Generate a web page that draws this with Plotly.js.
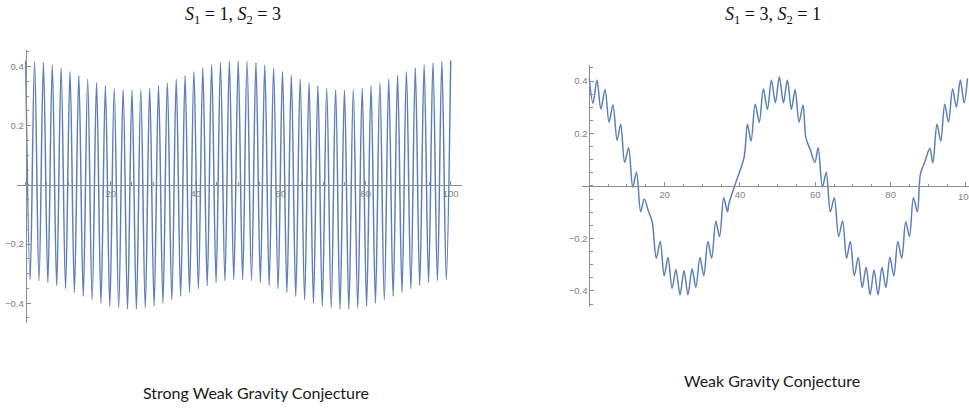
<!DOCTYPE html>
<html>
<head>
<meta charset="utf-8">
<script src="https://cdn.plot.ly/plotly-3.0.1.min.js"></script>
<style>html,body{margin:0;padding:0;background:#fff;}#chart{width:969px;height:408px;}</style>
</head>
<body>
<div id="chart"></div>
<script>
// Left panel: S1 = 1, S2 = 3 (extrema)
const leftX = [0, 1.04, 2.08, 3.13, 4.17, 5.21, 6.25, 7.29, 8.33, 9.38, 10.42, 11.46, 12.5, 13.54, 14.58, 15.63, 16.67, 17.71, 18.75, 19.79, 20.83, 21.88, 22.92, 23.96, 25, 26.04, 27.08, 28.13, 29.17, 30.21, 31.25, 32.29, 33.33, 34.38, 35.42, 36.46, 37.5, 38.54, 39.58, 40.63, 41.67, 42.71, 43.75, 44.79, 45.83, 46.88, 47.92, 48.96, 50, 51.04, 52.08, 53.13, 54.17, 55.21, 56.25, 57.29, 58.33, 59.38, 60.42, 61.46, 62.5, 63.54, 64.58, 65.63, 66.67, 67.71, 68.75, 69.79, 70.83, 71.88, 72.92, 73.96, 75, 76.04, 77.08, 78.13, 79.17, 80.21, 81.25, 82.29, 83.33, 84.38, 85.42, 86.46, 87.5, 88.54, 89.58, 90.63, 91.67, 92.71, 93.75, 94.79, 95.83, 96.88, 97.92, 98.96, 100];
const leftY = [0.42, -0.32, 0.418, -0.324, 0.413, -0.33, 0.405, -0.34, 0.395, -0.351, 0.383, -0.363, 0.37, -0.377, 0.357, -0.389, 0.345, -0.4, 0.335, -0.41, 0.327, -0.416, 0.322, -0.42, 0.32, -0.42, 0.322, -0.416, 0.327, -0.41, 0.335, -0.4, 0.345, -0.389, 0.357, -0.377, 0.37, -0.363, 0.383, -0.351, 0.395, -0.34, 0.405, -0.33, 0.413, -0.324, 0.418, -0.32, 0.42,
  -0.32, 0.418, -0.324, 0.413, -0.33, 0.405, -0.34, 0.395, -0.351, 0.383, -0.363, 0.37, -0.377, 0.357, -0.389, 0.345, -0.4, 0.335, -0.41, 0.327, -0.416, 0.322, -0.42, 0.32, -0.42, 0.322, -0.416, 0.327, -0.41, 0.335, -0.4, 0.345, -0.389, 0.357, -0.377, 0.37, -0.363, 0.383, -0.351, 0.395, -0.34, 0.405, -0.33, 0.413, -0.324, 0.418, -0.32, 0.42];

// Right panel: S1 = 3, S2 = 1
const rightX = [0, 1.0, 2.05, 3.1, 4.2, 5.25, 6.3, 7.4, 8.35, 9.4, 10.45, 11.55, 12.55, 13.65, 14.6, 15.65, 16.7, 17.8, 18.85, 19.9, 20.9, 22.0, 23.0, 24.1, 25.15, 26.2, 27.3, 28.3, 29.4, 30.4, 31.5, 32.5, 33.6, 34.6, 35.7, 36.7, 37.1, 39.1, 41.1, 42.0, 42.95, 44.05, 45.15, 46.2, 47.3, 48.35, 49.4, 50.45, 51.55, 52.6, 53.65, 54.65, 55.7, 56.75, 57.5, 58.7, 59.9, 60.75, 61.9, 62.9, 64.0, 65.05, 66.2, 67.25, 68.3, 69.3, 70.35, 71.4, 72.45, 73.5, 74.55, 75.6, 76.65, 77.7, 78.75, 79.8, 80.85, 81.9, 82.95, 84.0, 85.0, 86.05, 87.1, 87.9, 89.15, 90.4, 91.2, 92.3, 93.3, 94.35, 95.35, 96.45, 97.45, 98.5, 99.5, 100.4];
const rightY = [0.41, 0.315, 0.404, 0.293, 0.368, 0.243, 0.309, 0.174, 0.235, 0.09, 0.146, -0.004, 0.052, -0.098, -0.05, -0.093, -0.136, -0.275, -0.212, -0.342, -0.273, -0.39, -0.318, -0.415, -0.322, -0.415, -0.315, -0.387, -0.273, -0.342, -0.212, -0.275, -0.134, -0.193, -0.045, -0.098, -0.066, 0.021, 0.108, 0.235, 0.171, 0.311, 0.243, 0.37, 0.292, 0.404, 0.317, 0.416, 0.317, 0.404, 0.292, 0.368, 0.243, 0.309, 0.184, 0.137, 0.09, 0.146, -0.004, 0.052, -0.098, -0.045, -0.193, -0.133, -0.275, -0.212, -0.342, -0.273, -0.387, -0.31, -0.415, -0.32, -0.415, -0.31, -0.387, -0.272, -0.342, -0.212, -0.275, -0.136, -0.193, -0.045, -0.098, 0.045, 0.095, 0.144, 0.088, 0.235, 0.171, 0.311, 0.243, 0.37, 0.3, 0.404, 0.317, 0.41];

const xTickVals = [20, 40, 60, 80, 100];
const xTickText = ["20", "40", "60", "80", "100"];
const yTickVals = [-0.4, -0.2, 0.2, 0.4];
const yTickText = ["\u22120.4", "\u22120.2", "0.2", "0.4"];

const titles = ["<i>S</i><sub>1</sub> = 1, <i>S</i><sub>2</sub> = 3", "<i>S</i><sub>1</sub> = 3, <i>S</i><sub>2</sub> = 1"];
const captions = ["Strong Weak Gravity Conjecture", "Weak Gravity Conjecture"];

const lineColor = '#5E81B5';
const axisColor = '#8c8c8c';
const tickFont = {family: 'Liberation Sans, Arial, sans-serif', size: 9.5, color: '#808080'};

function axisBase(extra) {
  return Object.assign({
    showgrid: false, zeroline: false, showline: true, linecolor: axisColor, linewidth: 1,
    ticks: 'inside', ticklen: 4, tickwidth: 1, tickcolor: axisColor,
    tickfont: tickFont,
    tickmode: 'array', anchor: 'free', layer: 'above traces'
  }, extra);
}

const traces = [
  {x: leftX, y: leftY, xaxis: 'x', yaxis: 'y', type: 'scatter', mode: 'lines',
   line: {color: lineColor, width: 1.5, shape: 'spline', smoothing: 1}, hoverinfo: 'skip'},
  {x: rightX, y: rightY, xaxis: 'x2', yaxis: 'y2', type: 'scatter', mode: 'lines',
   line: {color: lineColor, width: 1.5, shape: 'spline', smoothing: 0.9}, hoverinfo: 'skip'}
];

const minorX = {ticks: 'inside', ticklen: 2.5, tickcolor: axisColor, dtick: 5, tick0: 0, showgrid: false};
const minorY = {ticks: 'inside', ticklen: 2.5, tickcolor: axisColor, dtick: 0.05, tick0: 0, showgrid: false};

const layout = {
  width: 969, height: 408,
  margin: {l: 0, r: 0, t: 0, b: 0},
  paper_bgcolor: '#ffffff', plot_bgcolor: 'rgba(0,0,0,0)',
  showlegend: false,
  xaxis: axisBase({domain: [0.01723, 0.47678], range: [-2.12, 102.66], position: 0.5466,
    tickvals: xTickVals, ticktext: xTickText, minor: minorX}),
  yaxis: axisBase({domain: [0.2083, 0.8775], range: [-0.467, 0.456], position: 0.02652,
    tickvals: yTickVals, ticktext: yTickText, minor: minorY}),
  xaxis2: axisBase({domain: [0.6003, 1], range: [-2.0, 100.8], position: 0.5441,
    tickvals: xTickVals, ticktext: xTickText, minor: minorX}),
  yaxis2: axisBase({domain: [0.2483, 0.8407], range: [-0.46, 0.461], position: 0.6082,
    tickvals: yTickVals, ticktext: yTickText, minor: minorY}),
  annotations: [
    {text: titles[0], xref: 'paper', yref: 'paper', x: 0.2408, y: 0.961, showarrow: false,
     xanchor: 'center', yanchor: 'middle', font: {family: 'Liberation Serif, serif', size: 18, color: '#111'}},
    {text: titles[1], xref: 'paper', yref: 'paper', x: 0.798, y: 0.961, showarrow: false,
     xanchor: 'center', yanchor: 'middle', font: {family: 'Liberation Serif, serif', size: 18, color: '#111'}},
    {text: captions[0], xref: 'paper', yref: 'paper', x: 0.2647, y: 0.0392, showarrow: false,
     xanchor: 'center', yanchor: 'middle', font: {family: 'Lato, sans-serif', size: 16, color: '#1a1a1a'}},
    {text: captions[1], xref: 'paper', yref: 'paper', x: 0.7972, y: 0.0662, showarrow: false,
     xanchor: 'center', yanchor: 'middle', font: {family: 'Lato, sans-serif', size: 16, color: '#1a1a1a'}},
    // right panel "100" tick label sits at the image edge and is partly cut, as in the reference
    {text: xTickText[4], xref: 'x2', yref: 'y2', x: xTickVals[4], y: 0, showarrow: false,
     xanchor: 'center', yanchor: 'top', yshift: -3, font: tickFont}
  ]
};

Plotly.newPlot('chart', traces, layout, {staticPlot: true, displayModeBar: false});
</script>
</body>
</html>
